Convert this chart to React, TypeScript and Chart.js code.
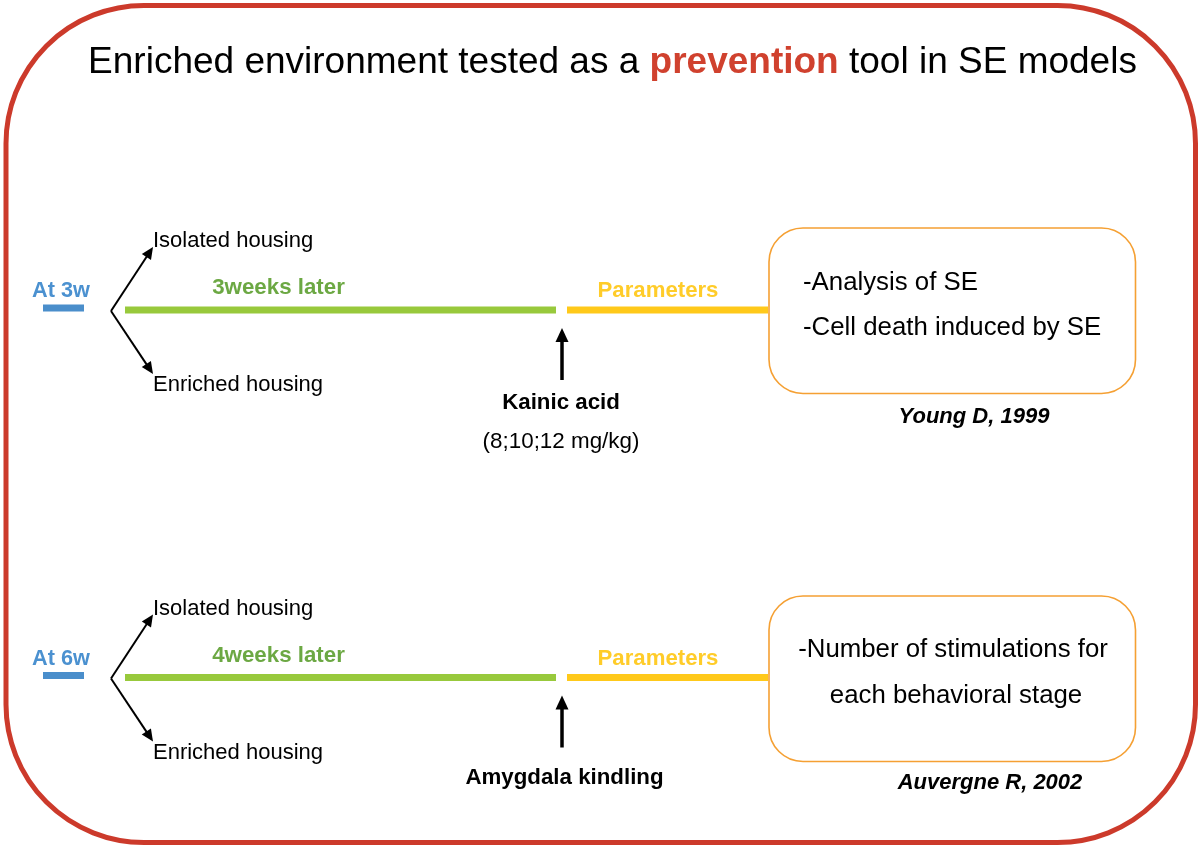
import React, { useEffect, useRef } from "react";
import { Chart, registerables } from "chart.js";

Chart.register(...registerables);

// ---- content (text) ----
const titleParts = ["Enriched environment tested as a ", "prevention", " tool in SE models"];
const startAges = ["At 3w", "At 6w"];
const housingGroups = ["Isolated housing", "Enriched housing"];
const housingPeriods = ["3weeks later", "4weeks later"];
const parameterLabels = ["Parameters", "Parameters"];
const seModels = ["Kainic acid", "Amygdala kindling"];
const seDoses = ["(8;10;12 mg/kg)", ""];
const outcomes = [
  ["-Analysis of SE", "-Cell death induced by SE"],
  ["-Number of stimulations for", "each behavioral stage"],
];
const references = ["Young D, 1999", "Auvergne R, 2002"];

// ---- layout (diagram coordinate space) ----
const W = 1199;
const H = 846;
const FONT = '"Liberation Sans", Arial, Helvetica, sans-serif';
const layout = {
  axisY: [310, 677.5],
  startBarX: [43, 84],
  startBarDy: -2,
  branch: { x: 111, tipX: 153, upDy: -63, downDy: 64 },
  housingX: [125, 556],
  paramX: [567, 768],
  triggerX: 562,
  triggerTipDy: 18,
  triggerBaseDy: 70,
  housingTextX: 153,
  isoBaseDy: -63,
  enrBaseDy: 81,
  startTextX: 61,
  startBaseDy: -13,
  periodTextX: 278.5,
  periodBaseDy: -16,
  paramTextX: 658,
  paramBaseDy: -13,
  triggerTextX: [561, 564.5],
  triggerBaseline: [409, 784],
  doseBaseline: [448, 0],
  box: [
    { x1: 769, y1: 228, x2: 1135.5, y2: 393.5 },
    { x1: 769, y1: 596, x2: 1135.5, y2: 761.5 },
  ],
  boxTextAlign: ["left", "center"],
  boxTextX: [803, 953],
  boxTextDx: [[0, 0], [0, 3]],
  boxBaselines: [
    [290, 335],
    [657, 703],
  ],
  refX: [974, 990],
  refBaseline: [423, 789],
  titleCenterX: 612.5,
  titleBaseline: 73,
  frame: { x1: 6, y1: 5.5, x2: 1195.5, y2: 842.5, r: 138 },
};

const colors = {
  frame: "#CC3A2B",
  titleRed: "#D0412E",
  blue: "#4A8ECB",
  blueText: "#4B91D0",
  green: "#98C93C",
  greenText: "#6CA843",
  yellow: "#FFC91A",
  yellowText: "#FFCC29",
  box: "#F5A033",
  text: "#000000",
};

function roundRect(ctx: CanvasRenderingContext2D, x1: number, y1: number, x2: number, y2: number, r: number) {
  ctx.beginPath();
  ctx.moveTo(x1 + r, y1);
  ctx.lineTo(x2 - r, y1);
  ctx.arcTo(x2, y1, x2, y1 + r, r);
  ctx.lineTo(x2, y2 - r);
  ctx.arcTo(x2, y2, x2 - r, y2, r);
  ctx.lineTo(x1 + r, y2);
  ctx.arcTo(x1, y2, x1, y2 - r, r);
  ctx.lineTo(x1, y1 + r);
  ctx.arcTo(x1, y1, x1 + r, y1, r);
  ctx.closePath();
}

function arrow(
  ctx: CanvasRenderingContext2D,
  x1: number,
  y1: number,
  x2: number,
  y2: number,
  lw: number,
  headLen: number,
  headHalf: number
) {
  const a = Math.atan2(y2 - y1, x2 - x1);
  const bx = x2 - Math.cos(a) * headLen;
  const by = y2 - Math.sin(a) * headLen;
  ctx.save();
  ctx.strokeStyle = "#000";
  ctx.fillStyle = "#000";
  ctx.lineWidth = lw;
  ctx.lineCap = "butt";
  ctx.beginPath();
  ctx.moveTo(x1, y1);
  ctx.lineTo(bx + Math.cos(a) * 1, by + Math.sin(a) * 1);
  ctx.stroke();
  ctx.beginPath();
  ctx.moveTo(x2, y2);
  ctx.lineTo(bx + Math.cos(a + Math.PI / 2) * headHalf, by + Math.sin(a + Math.PI / 2) * headHalf);
  ctx.lineTo(bx - Math.cos(a + Math.PI / 2) * headHalf, by - Math.sin(a + Math.PI / 2) * headHalf);
  ctx.closePath();
  ctx.fill();
  ctx.restore();
}

export default function App() {
  const ref = useRef<HTMLCanvasElement>(null);

  useEffect(() => {
    document.body.style.margin = "0";
    const canvas = ref.current;
    if (!canvas) return;

    const seg = (x1: number, y1: number, x2: number, y2: number, color: string, w: number) => ({
      type: "line" as const,
      data: [
        { x: x1, y: y1 },
        { x: x2, y: y2 },
      ],
      borderColor: color,
      backgroundColor: color,
      borderWidth: w,
      pointRadius: 0,
      showLine: true,
      fill: false,
      tension: 0,
      borderCapStyle: "butt" as const,
    });

    const datasets: any[] = [];
    layout.axisY.forEach((y) => {
      datasets.push(seg(layout.startBarX[0], y + layout.startBarDy, layout.startBarX[1], y + layout.startBarDy, colors.blue, 7));
      datasets.push(seg(layout.housingX[0], y, layout.housingX[1], y, colors.green, 7));
      datasets.push(seg(layout.paramX[0], y, layout.paramX[1], y, colors.yellow, 7));
    });

    const diagram = {
      id: "diagram",
      beforeDatasetsDraw(chart: any) {
        const ctx: CanvasRenderingContext2D = chart.ctx;
        const px = (v: number) => chart.scales.x.getPixelForValue(v);
        const py = (v: number) => chart.scales.y.getPixelForValue(v);
        ctx.save();
        ctx.fillStyle = "#fff";
        ctx.fillRect(0, 0, chart.width, chart.height);
        const f = layout.frame;
        roundRect(ctx, px(f.x1), py(f.y1), px(f.x2), py(f.y2), f.r);
        ctx.strokeStyle = colors.frame;
        ctx.lineWidth = 5;
        ctx.stroke();
        layout.box.forEach((b) => {
          roundRect(ctx, px(b.x1), py(b.y1), px(b.x2), py(b.y2), 34);
          ctx.strokeStyle = colors.box;
          ctx.lineWidth = 1.6;
          ctx.stroke();
        });
        ctx.restore();
      },
      afterDatasetsDraw(chart: any) {
        const ctx: CanvasRenderingContext2D = chart.ctx;
        const px = (v: number) => chart.scales.x.getPixelForValue(v);
        const py = (v: number) => chart.scales.y.getPixelForValue(v);
        const txt = (s: string, x: number, y: number, font: string, color: string, align: CanvasTextAlign = "center") => {
          if (!s) return;
          ctx.font = font;
          ctx.fillStyle = color;
          ctx.textAlign = align;
          ctx.textBaseline = "alphabetic";
          ctx.fillText(s, px(x), py(y));
        };
        ctx.save();

        // title
        const fonts = [`37px ${FONT}`, `bold 37px ${FONT}`, `37px ${FONT}`];
        const cols = [colors.text, colors.titleRed, colors.text];
        let total = 0;
        const widths = titleParts.map((p, i) => {
          ctx.font = fonts[i];
          const w = ctx.measureText(p).width;
          total += w;
          return w;
        });
        let cx = layout.titleCenterX - total / 2;
        titleParts.forEach((p, i) => {
          txt(p, cx, layout.titleBaseline, fonts[i], cols[i], "left");
          cx += widths[i];
        });

        layout.axisY.forEach((y, r) => {
          const b = layout.branch;
          arrow(ctx, px(b.x), py(y + 1), px(b.tipX), py(y + b.upDy), 2, 12, 5.5);
          arrow(ctx, px(b.x), py(y + 1), px(b.tipX), py(y + b.downDy), 2, 12, 5.5);
          arrow(ctx, px(layout.triggerX), py(y + layout.triggerBaseDy), px(layout.triggerX), py(y + layout.triggerTipDy), 3.5, 14, 6.5);

          txt(housingGroups[0], layout.housingTextX, y + layout.isoBaseDy, `22px ${FONT}`, colors.text, "left");
          txt(housingGroups[1], layout.housingTextX, y + layout.enrBaseDy, `22px ${FONT}`, colors.text, "left");
          txt(startAges[r], layout.startTextX, y + layout.startBaseDy, `bold 21.7px ${FONT}`, colors.blueText);
          txt(housingPeriods[r], layout.periodTextX, y + layout.periodBaseDy, `bold 22.3px ${FONT}`, colors.greenText);
          txt(parameterLabels[r], layout.paramTextX, y + layout.paramBaseDy, `bold 22.2px ${FONT}`, colors.yellowText);
          txt(seModels[r], layout.triggerTextX[r], layout.triggerBaseline[r], `bold 22.3px ${FONT}`, colors.text);
          txt(seDoses[r], layout.triggerTextX[r], layout.doseBaseline[r], `22.4px ${FONT}`, colors.text);
          outcomes[r].forEach((line, k) => {
            txt(
              line,
              layout.boxTextX[r] + layout.boxTextDx[r][k],
              layout.boxBaselines[r][k],
              `25.8px ${FONT}`,
              colors.text,
              layout.boxTextAlign[r] as CanvasTextAlign
            );
          });
          txt(references[r], layout.refX[r], layout.refBaseline[r], `italic bold 22px ${FONT}`, colors.text);
        });
        ctx.restore();
      },
    };

    const chart = new Chart(canvas, {
      type: "scatter",
      data: { datasets },
      options: {
        animation: false,
        responsive: false,
        devicePixelRatio: 1,
        events: [],
        layout: { padding: 0 },
        scales: {
          x: { type: "linear", min: 0, max: W, display: false },
          y: { type: "linear", min: 0, max: H, reverse: true, display: false },
        },
        plugins: { legend: { display: false }, tooltip: { enabled: false } },
      },
      plugins: [diagram],
    } as any);

    return () => chart.destroy();
  }, []);

  return (
    <div style={{ position: "absolute", left: 0, top: 0, width: W, height: H, background: "#fff" }}>
      <canvas ref={ref} width={W} height={H} style={{ display: "block", width: W, height: H }} />
    </div>
  );
}
